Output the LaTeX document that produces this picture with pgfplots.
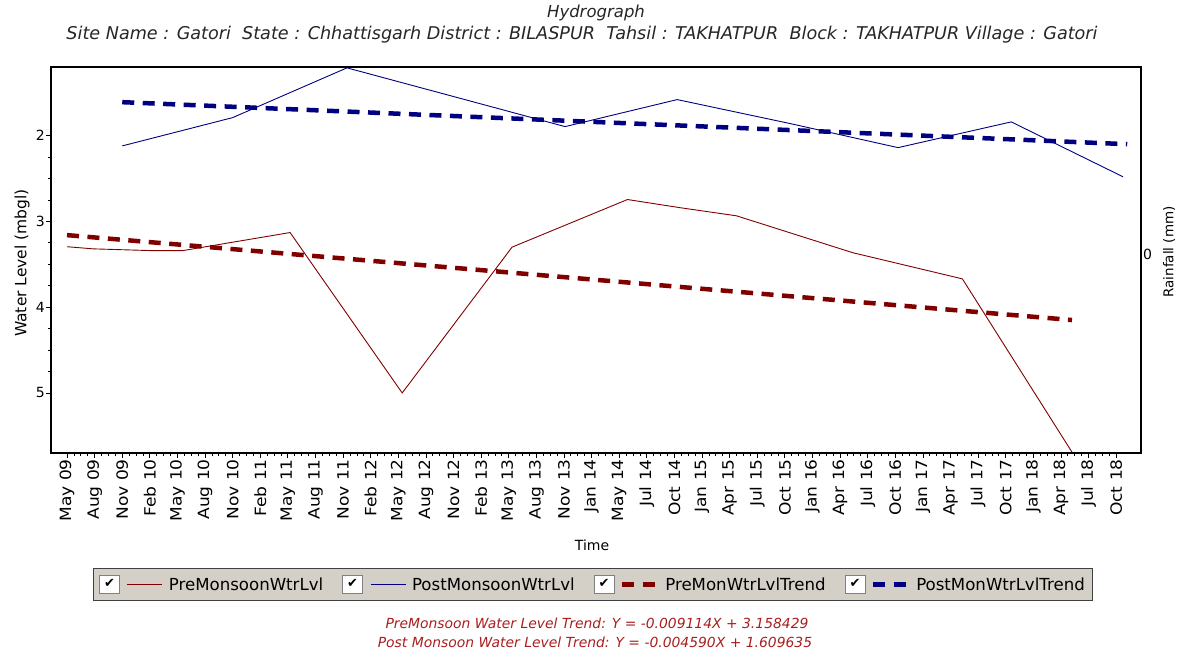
\documentclass[border=0pt]{standalone}
\usepackage{fontspec}
\setmainfont{DejaVu Sans}
\usepackage{graphicx}
\usepackage{pgfplots}
\pgfplotsset{compat=1.18}
\definecolor{premon}{RGB}{128,0,0}
\definecolor{postmon}{RGB}{0,0,128}
\definecolor{eqred}{RGB}{170,30,30}
\definecolor{leggray}{RGB}{212,208,200}
\newcommand{\fs}[1]{\fontsize{#1}{#1}\selectfont}
\newcommand{\stl}[1]{\scalebox{1.1}[1]{#1}}
\begin{document}
\begin{tikzpicture}
\useasboundingbox (0pt,0pt) rectangle (1177pt,652pt);
\begin{axis}[
  at={(51pt,199pt)}, anchor=south west,
  scale only axis, width=1090pt, height=386pt,
  xmin=-0.58, xmax=38.9, ymin=1.2, ymax=5.7, y dir=reverse,
  axis line style={line width=1.3pt},
  xtick={0,...,38},
  xticklabels={\stl{May 09},\stl{Aug 09},\stl{Nov 09},\stl{Feb 10},\stl{May 10},\stl{Aug 10},\stl{Nov 10},\stl{Feb 11},\stl{May 11},\stl{Aug 11},\stl{Nov 11},\stl{Feb 12},\stl{May 12},\stl{Aug 12},\stl{Nov 12},\stl{Feb 13},\stl{May 13},\stl{Aug 13},\stl{Nov 13},\stl{Jan 14},\stl{May 14},\stl{Jul 14},\stl{Oct 14},\stl{Jan 15},\stl{Apr 15},\stl{Jul 15},\stl{Oct 15},\stl{Jan 16},\stl{Apr 16},\stl{Jul 16},\stl{Oct 16},\stl{Jan 17},\stl{Apr 17},\stl{Jul 17},\stl{Oct 17},\stl{Jan 18},\stl{Apr 18},\stl{Jul 18},\stl{Oct 18}},
  xticklabel style={rotate=90, anchor=east, font=\fs{15.5}, inner sep=1pt},
  minor x tick num=3,
  ytick={2,3,4,5}, minor y tick num=3,
  yticklabel style={font=\fs{14}, inner sep=1pt},
  tick align=outside, xtick pos=bottom, ytick pos=left,
  major tick length=5pt, minor tick length=3pt,
  every tick/.style={black, line width=0.8pt},
  /pgf/number format/assume math mode=true,
  legend columns=4,
  legend style={at={(0.4972,-0.3407)}, anchor=center, fill=leggray, draw=black!75, line width=1pt,
    font=\fs{16.6}, inner xsep=6pt, inner ysep=6.5pt,
    /tikz/every even column/.style={column sep=17pt}},
  legend image code/.code={
    \draw[solid, line width=0.8pt, draw=black!50, fill=white] (0pt,-9pt) rectangle (20pt,9pt);
    \node[inner sep=0pt, text=black, font=\fs{13}] at (10pt,0pt) {✔};
    \draw (28pt,0pt) -- (63pt,0pt);
    \path (67pt,0pt);
  },
]
\addplot[premon, line width=0.9pt] coordinates {
(0,3.295) (0.94,3.32) (3.0,3.34) (4.2,3.34) (8.08,3.13) (12.14,5.00) (16.12,3.30)
(20.3,2.745) (22.2,2.84) (24.25,2.935) (28.46,3.365) (32.43,3.67) (36.4,5.69)};
\addlegendentry{PreMonsoonWtrLvl}
\addplot[postmon, line width=0.9pt] coordinates {
(2.0,2.12) (6.0,1.79) (10.14,1.21) (14.1,1.553) (18.04,1.895) (22.1,1.58)
(26.2,1.86) (30.1,2.14) (34.2,1.84) (38.25,2.48)};
\addlegendentry{PostMonsoonWtrLvl}
\addplot[premon, line width=4.5pt, dash pattern=on 12pt off 8.5pt] coordinates {(0,3.16) (36.4,4.15)};
\addlegendentry{PreMonWtrLvlTrend}
\addplot[postmon, line width=4.5pt, dash pattern=on 12pt off 8.5pt] coordinates {(2.0,1.61) (38.4,2.10)};
\addlegendentry{PostMonWtrLvlTrend}
\end{axis}
\begin{axis}[
  at={(51pt,199pt)}, anchor=south west,
  scale only axis, width=1090pt, height=386pt,
  hide x axis, axis y line*=right, axis line style={line width=1.3pt},
  xmin=0, xmax=1, ymin=-1, ymax=0.94, ytick={0},
  major tick length=0pt,
  yticklabel style={font=\fs{14}, inner sep=2pt},
  /pgf/number format/assume math mode=true,
]
\end{axis}
\node[font=\itshape\fs{16.5}, text=black!85] at (596pt,639pt) {Hydrograph};
\node[font=\itshape\fs{17.6}, text=black!85] at (582pt,617pt) {Site Name : Gatori\ \ State : Chhattisgarh District : BILASPUR\ \ Tahsil : TAKHATPUR\ \ Block : TAKHATPUR Village : Gatori};
\node[rotate=90, font=\fs{15.5}] at (22pt,389pt) {Water Level (mbgl)};
\node[rotate=90, font=\fs{13.5}] at (1169pt,400pt) {Rainfall (mm)};
\node[font=\fs{14}] at (592pt,107pt) {Time};
\node[font=\itshape\fs{13.9}, text=eqred] at (597pt,29pt) {PreMonsoon Water Level Trend: Y = -0.009114X + 3.158429};
\node[font=\itshape\fs{13.9}, text=eqred] at (595pt,10pt) {Post Monsoon Water Level Trend: Y = -0.004590X + 1.609635};
\end{tikzpicture}
\end{document}
